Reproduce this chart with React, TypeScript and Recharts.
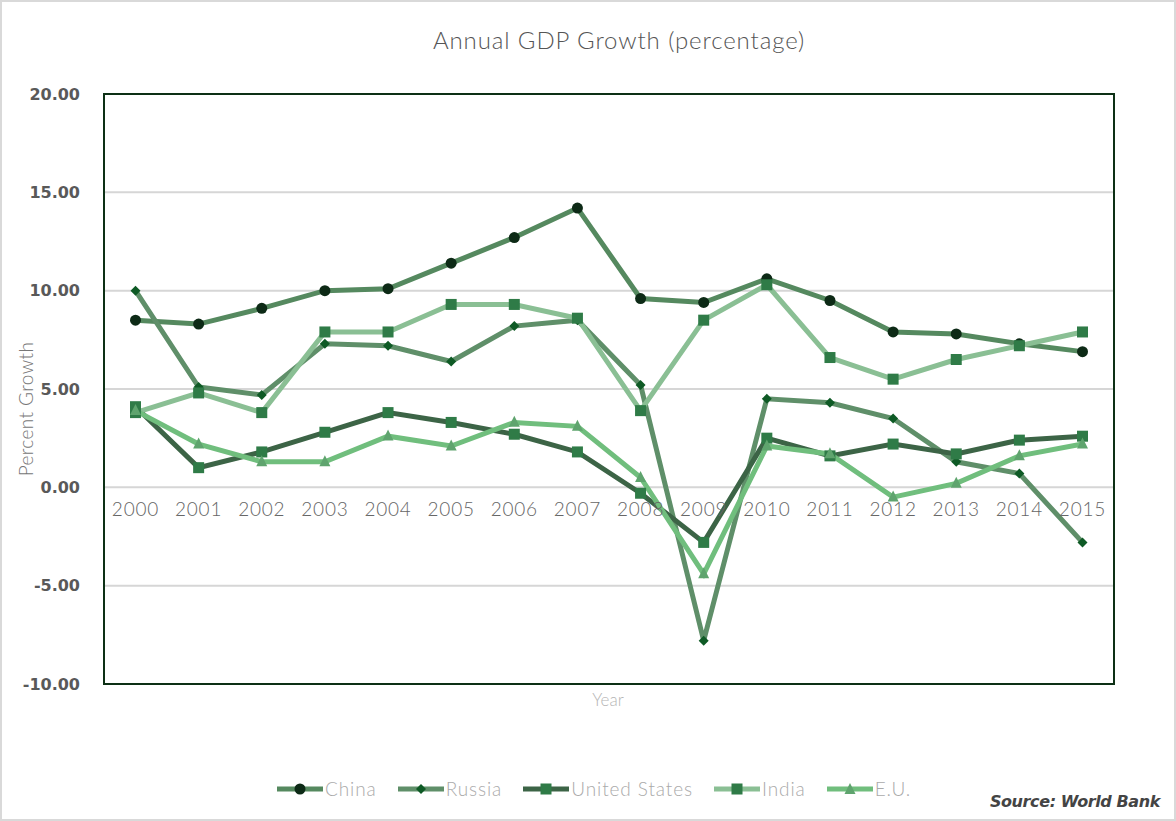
import React from 'react';
import { LineChart, Line, XAxis, YAxis, CartesianGrid } from 'recharts';

// values
const years = ['2000', '2001', '2002', '2003', '2004', '2005', '2006', '2007', '2008', '2009', '2010', '2011', '2012', '2013', '2014', '2015'];
const china = [8.5, 8.3, 9.1, 10.0, 10.1, 11.4, 12.7, 14.2, 9.6, 9.4, 10.6, 9.5, 7.9, 7.8, 7.3, 6.9];
const russia = [10.0, 5.1, 4.7, 7.3, 7.2, 6.4, 8.2, 8.5, 5.2, -7.8, 4.5, 4.3, 3.5, 1.3, 0.7, -2.8];
const us = [4.1, 1.0, 1.8, 2.8, 3.8, 3.3, 2.7, 1.8, -0.3, -2.8, 2.5, 1.6, 2.2, 1.7, 2.4, 2.6];
const india = [3.8, 4.8, 3.8, 7.9, 7.9, 9.3, 9.3, 8.6, 3.9, 8.5, 10.3, 6.6, 5.5, 6.5, 7.2, 7.9];
const eu = [3.9, 2.2, 1.3, 1.3, 2.6, 2.1, 3.3, 3.1, 0.5, -4.4, 2.1, 1.7, -0.5, 0.2, 1.6, 2.2];
const yTicks = [-10, -5, 0, 5, 10, 15, 20];

const data = years.map((y, i) => ({
  year: y,
  china: china[i],
  russia: russia[i],
  us: us[i],
  india: india[i],
  eu: eu[i],
}));

const W = 1176;
const H = 821;
const TOP = 94;
const BOTTOM = 684;
const LEFT = 104;
const RIGHT = 1114;
const zeroY = TOP + ((BOTTOM - TOP) * 20) / 30;

const circleDot = (fill: string, r: number) => (p: any) =>
  <circle key={`c${p.index}`} cx={p.cx} cy={p.cy} r={r} fill={fill} />;
const diamondDot = (fill: string, s: number) => (p: any) =>
  <path key={`d${p.index}`} d={`M${p.cx},${p.cy - s}L${p.cx + s},${p.cy}L${p.cx},${p.cy + s}L${p.cx - s},${p.cy}Z`} fill={fill} />;
const squareDot = (fill: string, s: number) => (p: any) =>
  <rect key={`s${p.index}`} x={p.cx - s / 2} y={p.cy - s / 2} width={s} height={s} fill={fill} />;
const triDot = (fill: string, s: number) => (p: any) =>
  <path key={`t${p.index}`} d={`M${p.cx},${p.cy - s * 0.6}L${p.cx + s / 2},${p.cy + s * 0.4}L${p.cx - s / 2},${p.cy + s * 0.4}Z`} fill={fill} />;

const series = [
  { key: 'china', name: 'China', line: '#55895f', dot: circleDot('#0d2a16', 5.5), mark: 'circle', markColor: '#0d2a16' },
  { key: 'russia', name: 'Russia', line: '#5f8f69', dot: diamondDot('#0e5a25', 5), mark: 'diamond', markColor: '#0e5a25' },
  { key: 'us', name: 'United States', line: '#3c6446', dot: squareDot('#2f7b47', 11), mark: 'square', markColor: '#2f7b47' },
  { key: 'india', name: 'India', line: '#8abf94', dot: squareDot('#2f7b47', 11), mark: 'square', markColor: '#2f7b47' },
  { key: 'eu', name: 'E.U.', line: '#70be7d', dot: triDot('#5fa46e', 11), mark: 'tri', markColor: '#5fa46e' },
];

const XTick = (p: any) => (
  <text x={p.x} y={zeroY + 29} textAnchor="middle" fill="#666" fontFamily="Lato" fontWeight={300} fontSize={19} letterSpacing={0.8}>
    {p.payload.value}
  </text>
);

const LegendIcon = ({ s }: { s: any }) => (
  <svg width={46} height={14} style={{ marginRight: 2 }}>
    <line x1={0} y1={7} x2={46} y2={7} stroke={s.line} strokeWidth={5} />
    {s.mark === 'circle' && <circle cx={23} cy={7} r={5.5} fill={s.markColor} />}
    {s.mark === 'diamond' && <path d="M23,2L28,7L23,12L18,7Z" fill={s.markColor} />}
    {s.mark === 'square' && <rect x={17.5} y={1.5} width={11} height={11} fill={s.markColor} />}
    {s.mark === 'tri' && <path d="M23,1L28.5,12L17.5,12Z" fill={s.markColor} />}
  </svg>
);

export default function App() {
  return (
    <div style={{ position: 'absolute', left: 0, top: 0, width: W, height: H, boxSizing: 'border-box', border: '2px solid #d9d9d9', background: '#fff', overflow: 'hidden' }}>
      <div style={{ position: 'absolute', left: -2, top: -2 }}>
        <LineChart width={W} height={H} data={data} margin={{ top: TOP, right: W - RIGHT, bottom: H - BOTTOM - 1, left: 0 }}>
          <CartesianGrid vertical={false} stroke="#d6d6d6" strokeWidth={2} />
          <XAxis dataKey="year" height={1} axisLine={false} tickLine={false} tick={<XTick />} interval={0} padding={{ left: 31.5, right: 31.5 }} />
          <YAxis
            width={LEFT}
            domain={[-10, 20]}
            ticks={yTicks}
            axisLine={false}
            tickLine={false}
            tickMargin={18}
            tickFormatter={(v: number) => v.toFixed(2)}
            tick={{ fill: '#595959', fontFamily: 'DejaVu Sans', fontWeight: 'bold', fontSize: 16 }}
          />
          {series.map((s) => (
            <Line
              key={s.key}
              dataKey={s.key}
              name={s.name}
              stroke={s.line}
              strokeWidth={5}
              dot={s.dot}
              activeDot={false}
              isAnimationActive={false}
            />
          ))}
        </LineChart>
      </div>
      {/* plot border */}
      <div style={{ position: 'absolute', left: LEFT - 3, top: TOP - 3, width: RIGHT - LEFT + 2, height: BOTTOM - TOP + 2, boxSizing: 'border-box', border: '2px solid #0d3015', pointerEvents: 'none' }} />
      <div style={{ position: 'absolute', left: 417, width: 400, top: 23, textAlign: 'center', fontFamily: 'Lato', fontWeight: 300, fontSize: 24, letterSpacing: 0.9, color: '#555', whiteSpace: 'nowrap' }}>
        Annual GDP Growth (percentage)
      </div>
      <div style={{ position: 'absolute', left: 0, top: 407, transform: 'translate(-50%, -50%) rotate(-90deg)', transformOrigin: 'center', whiteSpace: 'nowrap', fontFamily: 'Lato', fontWeight: 300, fontSize: 19, letterSpacing: 0.4, color: '#777', marginLeft: 23 }}>
        Percent Growth
      </div>
      <div style={{ position: 'absolute', left: 558, width: 96, top: 687, textAlign: 'center', fontFamily: 'Lato', fontWeight: 300, fontSize: 17, color: '#b5b5b5' }}>
        Year
      </div>
      <div style={{ position: 'absolute', left: 275, top: 775, display: 'flex', alignItems: 'center', fontFamily: 'Lato', fontWeight: 300, fontSize: 19, letterSpacing: 0.9, color: '#aaa' }}>
        {series.map((s) => (
          <div key={s.key} style={{ display: 'flex', alignItems: 'center', marginRight: 21 }}>
            <LegendIcon s={s} />
            <span>{s.name}</span>
          </div>
        ))}
      </div>
      <div style={{ position: 'absolute', right: 14, top: 790, fontFamily: 'DejaVu Sans', fontWeight: 'bold', fontStyle: 'italic', fontSize: 16, color: '#444', letterSpacing: -0.4 }}>
        Source: World Bank
      </div>
    </div>
  );
}
